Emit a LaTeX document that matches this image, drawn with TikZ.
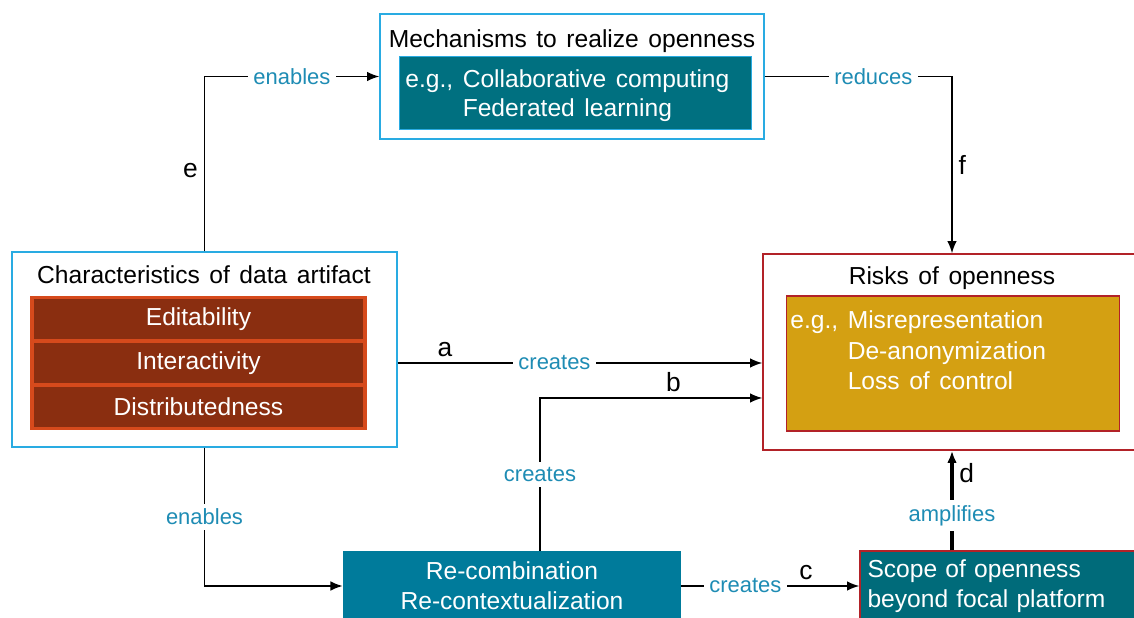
\documentclass[tikz,border=0pt]{standalone}
\usepackage{fontspec}
\setmainfont{Liberation Sans}[WordSpace=1.4]
\usetikzlibrary{arrows.meta}
\definecolor{frameblue}{RGB}{41,171,226}
\definecolor{framered}{RGB}{178,34,40}
\definecolor{traitbrown}{RGB}{138,46,16}
\definecolor{traitorange}{RGB}{214,74,28}
\definecolor{mechteal}{RGB}{0,112,128}
\definecolor{recombblue}{RGB}{0,123,155}
\definecolor{scopeteal}{RGB}{0,107,122}
\definecolor{riskgold}{RGB}{212,160,18}
\definecolor{lbltext}{RGB}{30,140,180}

\begin{document}
\begin{tikzpicture}[x=0.02cm, y=-0.02cm,
        every node/.style={font=\fontsize{14}{17}\selectfont},
        outerbox/.style={draw=frameblue, line width=0.8pt, fill=white},
        lbl/.style={text=lbltext, fill=white, font=\fontsize{12.5}{15}\selectfont, inner sep=3pt},
        tag/.style={font=\fontsize{15}{17}\selectfont},
        arr/.style={-{Latex[length=7pt,width=5.5pt]}, line width=0.9pt}]
        \useasboundingbox (0,0) rectangle (1134,618);

        \node[outerbox, minimum width=7.7cm, minimum height=3.9cm] (char) at (204.5,349.5) {};
        \node (chartitle) at (204,275) {Characteristics of data artifact};
        \node[fill=traitorange, minimum width=6.74cm, minimum height=2.68cm] (traits) at (198.5,363) {};
        \foreach \t/\y [count=\i] in {Editability/319, Interactivity/363, Distributedness/407}
            \node[fill=traitbrown, text=white, minimum width=6.6cm, minimum height=0.8cm] (trait\i) at (198.5,\y) {\t};

        \node[outerbox, minimum width=7.68cm, minimum height=2.5cm] (mech) at (572,76.5) {};
        \node (mechtitle) at (572,41) {Mechanisms to realize openness};
        \node[fill=mechteal, draw=frameblue, line width=0.5pt, minimum width=7.04cm, minimum height=1.46cm] (mechex) at (575,92.5) {};
        \node[anchor=west, inner sep=0pt, text=white] (mechtext) at (405,96)
            {\begin{tabular}{@{}l@{ }l@{}}e.g., & Collaborative computing\\ & Federated learning\end{tabular}};

        \node[draw=framered, line width=0.8pt, fill=white, minimum width=7.56cm, minimum height=3.92cm] (risks) at (952,352) {};
        \node (riskstitle) at (952,278) {Risks of openness};
        \node[fill=riskgold, draw=framered, line width=0.6pt, minimum width=6.68cm, minimum height=2.7cm] (riskex) at (953,363.5) {};
        \node[anchor=west, inner sep=0pt, text=white, font=\fontsize{14}{17.5}\selectfont] (risktext) at (790,353)
            {\begin{tabular}{@{}l@{ }l@{}}e.g., & Misrepresentation\\ & De-anonymization\\ & Loss of control\end{tabular}};

        \node[fill=recombblue, text=white, align=center, minimum width=6.76cm, minimum height=1.4cm] (recomb) at (512,586)
            {Re-combination\\Re-contextualization};
        \node[fill=scopeteal, draw=framered, line width=0.8pt, text=white, text width=5.3cm, align=left, minimum width=5.6cm, minimum height=1.4cm] (scope) at (1000,586)
            {Scope of openness\\beyond focal platform};

        \draw[arr] (char.north) |- (mech.west)
            node[tag, left, pos=0.23] {e}
            node[lbl, pos=0.75] {enables};
        \draw[arr] (mech.east) -| (risks.north)
            node[lbl, pos=0.29] {reduces}
            node[tag, right, pos=0.75] {f};
        \draw[arr] (char.east |- traits) -- (risks.west |- traits)
            node[lbl, pos=0.43] {creates}
            node[tag, above, pos=0.13] {a};
        \draw[arr] ([xshift=0.56cm]recomb.north) |- ([yshift=-0.92cm]risks.west)
            node[lbl, pos=0.25] {creates}
            node[tag, above, pos=0.8] {b};
        \draw[arr] (char.south) |- (recomb.west)
            node[lbl, pos=0.25] {enables};
        \draw[arr] (recomb.east) -- (scope.west)
            node[lbl, pos=0.36] {creates}
            node[tag, above, pos=0.7] {c};
        \draw[arr, line width=1.8pt] (risks.south |- scope.north) -- (risks.south)
            node[lbl, pos=0.35] {amplifies}
            node[tag, right, pos=0.78] {d};
    \end{tikzpicture}
\end{document}
